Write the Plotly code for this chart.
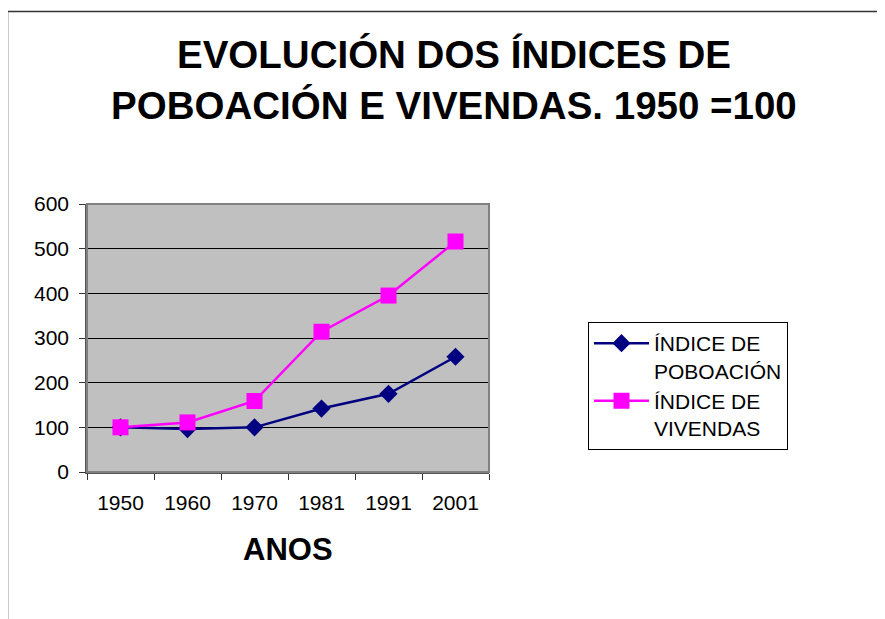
import plotly.graph_objects as go

anos = ["1950", "1960", "1970", "1981", "1991", "2001"]
poboacion = [100, 96, 100, 142, 175, 258]
vivendas = [100, 111, 159, 314, 395, 516]
y_ticks = [0, 100, 200, 300, 400, 500, 600]

FONT = "Arial, Liberation Sans, Helvetica, sans-serif"

OFF = 8  # page body margin
W, H = 885 - OFF, 619 - OFF
L, R, T, B = 87 - OFF, 489 - OFF, 204 - OFF, 472 - OFF


def px(x):
    return (x - OFF - L) / (R - L)


def py(y):
    return (B - (y - OFF)) / (B - T)


fig = go.Figure()
fig.add_trace(go.Scatter(
    x=anos, y=poboacion, mode="lines+markers",
    name="ÍNDICE DE<br>POBOACIÓN",
    line=dict(color="#000080", width=2.5),
    marker=dict(symbol="diamond", size=14, color="#000080"),
))
fig.add_trace(go.Scatter(
    x=anos, y=vivendas, mode="lines+markers",
    name="ÍNDICE DE<br>VIVENDAS",
    line=dict(color="#FF00FF", width=2.5),
    marker=dict(symbol="square", size=16, color="#FF00FF"),
))

fig.update_layout(
    width=W, height=H,
    margin=dict(l=L, r=W - R, t=T, b=H - B, pad=0),
    paper_bgcolor="white",
    plot_bgcolor="#C0C0C0",
    font=dict(family=FONT, size=21, color="black"),
    showlegend=True,
    legend=dict(
        x=px(588), y=py(322), xanchor="left", yanchor="top",
        bordercolor="black", borderwidth=1, bgcolor="white",
        font=dict(size=21, family=FONT, color="black"),
        itemwidth=55, valign="top", tracegroupgap=1,
        entrywidth=205, entrywidthmode="pixels",
    ),
    xaxis=dict(
        type="category", range=[-0.5, 5.5],
        tickson="boundaries", ticks="outside", ticklen=6, tickcolor="#333",
        showline=True, linecolor="#555", linewidth=1.5,
        showgrid=False, zeroline=False, mirror=False,
        tickfont=dict(size=21, family=FONT),
        ticklabelstandoff=11,
    ),
    yaxis=dict(
        range=[0, 600], tickvals=y_ticks, ticks="outside", ticklen=6,
        tickcolor="#333", showline=True, linecolor="#555", linewidth=1.5,
        showgrid=True, gridcolor="black", gridwidth=1, zeroline=False,
        tickfont=dict(size=21, family=FONT),
        ticklabelstandoff=6,
    ),
)

# plot area border
fig.add_shape(type="rect", xref="paper", yref="paper", x0=0, y0=0, x1=1, y1=1,
              line=dict(color="#808080", width=2), layer="above")

# outer chart frame (top and left visible)
fig.add_shape(type="path", xref="paper", yref="paper",
              path=f"M {px(7.5)},{py(640)} L {px(7.5)},{py(11.5)} L {px(900)},{py(11.5)}",
              line=dict(color="#333333", width=1.5))

fig.add_annotation(text="<b>EVOLUCIÓN DOS ÍNDICES DE</b>", xref="paper", yref="paper",
                   x=px(454), y=py(55), xanchor="center", yanchor="middle",
                   showarrow=False, font=dict(size=38.5, family=FONT, color="black"))
fig.add_annotation(text="<b>POBOACIÓN E VIVENDAS. 1950 =100</b>", xref="paper", yref="paper",
                   x=px(454), y=py(105), xanchor="center", yanchor="middle",
                   showarrow=False, font=dict(size=38.5, family=FONT, color="black"))
fig.add_annotation(text="<b>ANOS</b>", xref="paper", yref="paper",
                   x=px(288), y=py(549), xanchor="center", yanchor="middle",
                   showarrow=False, font=dict(size=31, family=FONT, color="black"))

fig.write_html("out.html")
